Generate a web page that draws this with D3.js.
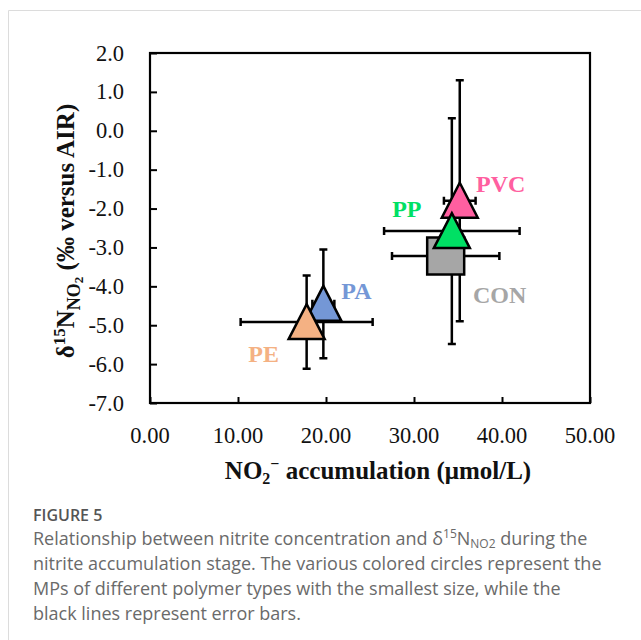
<!DOCTYPE html>
<html>
<head>
<meta charset="utf-8">
<script src="https://cdn.jsdelivr.net/npm/d3@7"></script>
<style>
  body { margin: 0; background: #fff; }
  svg { display: block; }
</style>
</head>
<body>
<div id="chart"></div>
<script>
// values
var names = ["CON", "PVC", "PP", "PA", "PE"];
var xVals = [33.6, 35.2, 34.3, 19.7, 17.8];
var yVals = [-3.22, -1.80, -2.58, -4.45, -4.92];
var xErr = [6.1, 1.8, 7.7, 1.25, 7.5];
var yErr = [0.4, 3.1, 2.9, 1.4, 1.2];
var shapes = ["square", "triangle", "triangle", "triangle", "triangle"];
var colors = ["#a6a6a6", "#ff5fa0", "#00e064", "#7497d6", "#f4b183"];
var xTicks = [0, 10, 20, 30, 40, 50];
var yTicks = [2, 1, 0, -1, -2, -3, -4, -5, -6, -7];
var captionLines = [
  "nitrite accumulation stage. The various colored circles represent the",
  "MPs of different polymer types with the smallest size, while the",
  "black lines represent error bars."
];

(function() {
  var w = 641, h = 640;
  var pLeft = 150, pRight = 590, pTop = 53, pBottom = 403;
  var serif = "'Liberation Serif', 'Times New Roman', serif";
  var sans = "'Open Sans', 'Noto Sans', sans-serif";

  // label offsets from point (px), and draw order of markers
  var labelOff = { CON: [54, 39], PVC: [41, -17], PP: [-45, -22], PA: [33, -13], PE: [-43, 32] };
  var markerOrder = [3, 4, 0, 1, 2];

  var svg = d3.select("#chart").append("svg").attr("width", w).attr("height", h);

  // outer panel frame
  svg.append("path").attr("d", "M8.5," + (h + 5) + "V10.5H" + (w + 5))
    .attr("fill", "none").attr("stroke", "#dcdcdc").attr("stroke-width", 1);

  var x = d3.scaleLinear().domain([0, 50]).range([pLeft, pRight]);
  var y = d3.scaleLinear().domain([-7, 2]).range([pBottom, pTop]);

  // inward ticks
  svg.append("g").attr("transform", "translate(0," + pBottom + ")")
    .call(d3.axisTop(x).tickValues(xTicks).tickSize(6).tickFormat(""))
    .call(function(g) { g.select(".domain").remove(); g.selectAll("line").attr("stroke", "#000").attr("stroke-width", 2); });
  svg.append("g").attr("transform", "translate(" + pLeft + ",0)")
    .call(d3.axisRight(y).tickValues(yTicks).tickSize(7).tickFormat(""))
    .call(function(g) { g.select(".domain").remove(); g.selectAll("line").attr("stroke", "#000").attr("stroke-width", 2); });

  svg.append("rect").attr("x", pLeft).attr("y", pTop).attr("width", pRight - pLeft).attr("height", pBottom - pTop)
    .attr("fill", "none").attr("stroke", "#000").attr("stroke-width", 2.2);

  // tick labels
  svg.selectAll(".xl").data(xTicks).enter().append("text")
    .attr("x", function(d) { return x(d); }).attr("y", 443)
    .attr("text-anchor", "middle").attr("font-family", serif).attr("font-size", 22.5).attr("fill", "#111")
    .text(function(d) { return d.toFixed(2); });
  svg.selectAll(".yl").data(yTicks).enter().append("text")
    .attr("x", 124).attr("y", function(d) { return y(d) + 7.5; })
    .attr("text-anchor", "end").attr("font-family", serif).attr("font-size", 22.5).attr("fill", "#111")
    .text(function(d) { return d.toFixed(1); });

  // axis titles
  var xt = svg.append("text").attr("x", 378).attr("y", 479).attr("text-anchor", "middle")
    .attr("font-family", serif).attr("font-size", 25).attr("font-weight", "bold").attr("fill", "#111");
  xt.append("tspan").text("NO");
  xt.append("tspan").attr("font-size", 16).attr("dy", 5).text("2");
  xt.append("tspan").attr("font-size", 16).attr("dy", -15).text("\u2212");
  xt.append("tspan").attr("dy", 10).text(" accumulation (\u03bcmol/L)");

  var yt = svg.append("text").attr("transform", "translate(74,231) rotate(-90)").attr("text-anchor", "middle")
    .attr("font-family", serif).attr("font-size", 25).attr("font-weight", "bold").attr("fill", "#111");
  yt.append("tspan").text("\u03b4");
  yt.append("tspan").attr("font-size", 17).attr("dy", -9).text("15");
  yt.append("tspan").attr("dy", 9).text("N");
  yt.append("tspan").attr("font-size", 18).attr("dy", 6).text("NO");
  yt.append("tspan").attr("font-size", 13).attr("dy", 3).text("2");
  yt.append("tspan").attr("dy", -9).text(" (\u2030 versus AIR)");

  // error bars
  var eb = svg.append("g").attr("stroke", "#000").attr("stroke-width", 2.5).attr("fill", "none");
  names.forEach(function(n, i) {
    var cx = x(xVals[i]), cy = y(yVals[i]);
    var x0 = x(xVals[i] - xErr[i]), x1 = x(xVals[i] + xErr[i]);
    var y0 = y(yVals[i] + yErr[i]), y1 = y(yVals[i] - yErr[i]);
    eb.append("path").attr("d",
      "M" + x0 + "," + cy + "H" + x1 +
      "M" + x0 + "," + (cy - 4) + "V" + (cy + 4) +
      "M" + x1 + "," + (cy - 4) + "V" + (cy + 4) +
      "M" + cx + "," + y0 + "V" + y1 +
      "M" + (cx - 4) + "," + y0 + "H" + (cx + 4) +
      "M" + (cx - 4) + "," + y1 + "H" + (cx + 4));
  });

  // markers
  markerOrder.forEach(function(i) {
    var cx = x(xVals[i]), cy = y(yVals[i]);
    if (shapes[i] === "square") {
      svg.append("rect").attr("x", cx - 18.5).attr("y", cy - 18.5).attr("width", 37).attr("height", 37)
        .attr("fill", colors[i]).attr("stroke", "#000").attr("stroke-width", 2.5);
    } else {
      svg.append("path").attr("d", "M0,-18L18,17L-18,17Z")
        .attr("transform", "translate(" + cx + "," + cy + ")")
        .attr("fill", colors[i]).attr("stroke", "#000").attr("stroke-width", 2.5);
    }
  });

  // series labels
  names.forEach(function(n, i) {
    svg.append("text").attr("x", x(xVals[i]) + labelOff[n][0]).attr("y", y(yVals[i]) + labelOff[n][1] + 8)
      .attr("text-anchor", "middle").attr("font-family", serif).attr("font-size", 24).attr("font-weight", "bold")
      .attr("fill", colors[i]).text(n);
  });

  // caption
  svg.append("text").attr("x", 33).attr("y", 521).attr("font-family", sans).attr("font-size", 16)
    .attr("font-weight", 600).attr("fill", "#555").text("FIGURE 5");
  var c1 = svg.append("text").attr("x", 33).attr("y", 545).attr("font-family", sans).attr("font-size", 18).attr("fill", "#6a6a6a");
  c1.append("tspan").text("Relationship between nitrite concentration and \u03b4");
  c1.append("tspan").attr("font-size", 12).attr("dy", -7).text("15");
  c1.append("tspan").attr("dy", 7).text("N");
  c1.append("tspan").attr("font-size", 12).attr("dy", 3).text("NO2");
  c1.append("tspan").attr("dy", -3).text(" during the");
  svg.selectAll(".cap").data(captionLines).enter().append("text")
    .attr("x", 33).attr("y", function(d, i) { return 570 + i * 25; })
    .attr("font-family", sans).attr("font-size", 18).attr("fill", "#6a6a6a")
    .text(function(d) { return d; });
})();
</script>
</body>
</html>
